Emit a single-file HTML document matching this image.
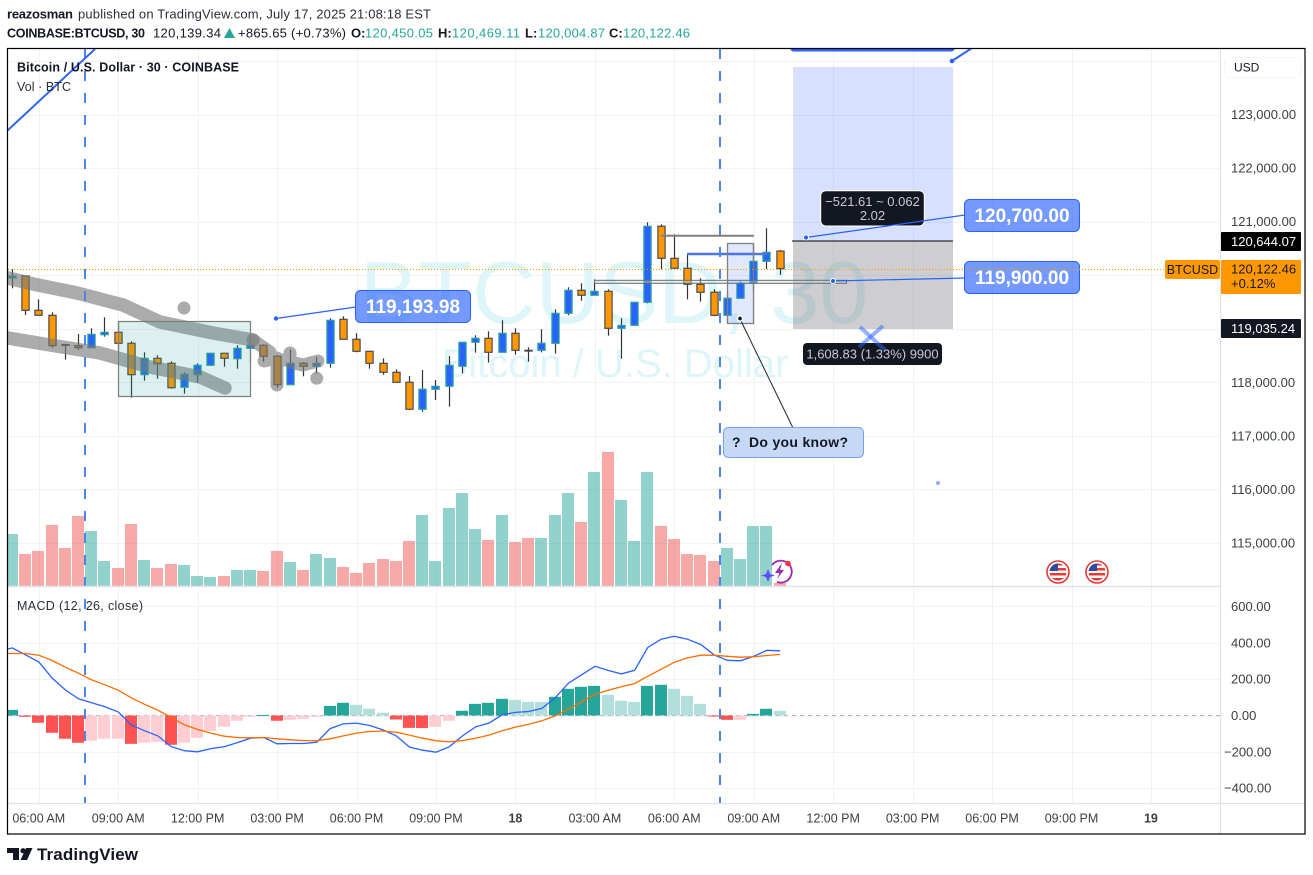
<!DOCTYPE html>
<html lang="en">
<head>
<meta charset="utf-8">
<title>BTCUSD 30 chart</title>
<style>
html,body{margin:0;padding:0;background:#fff;width:1313px;height:875px;overflow:hidden}
svg{display:block;font-family:"Liberation Sans",sans-serif}
</style>
</head>
<body>
<svg id="chart" xmlns="http://www.w3.org/2000/svg" width="1313" height="875" viewBox="0 0 1313 875">
<defs>
<clipPath id="clipMain"><rect x="8" y="49" width="1212" height="537"/></clipPath>
<clipPath id="clipMacd"><rect x="8" y="587" width="1212" height="216"/></clipPath>
<clipPath id="clipAll"><rect x="8" y="49" width="1212" height="754"/></clipPath>
<clipPath id="flagA"><circle cx="1058" cy="572" r="8.5"/></clipPath>
<clipPath id="flagB"><circle cx="1097" cy="572" r="8.5"/></clipPath>
</defs>
<rect width="1313" height="875" fill="#fff"/>

<text x="7" y="18.500" font-size="13" font-weight="700" fill="#131722" textLength="66">reazosman</text>
<text x="78" y="18.500" font-size="13" fill="#2a2e39" textLength="353">published on TradingView.com, July 17, 2025 21:08:18 EST</text>
<g font-size="13">
<text x="7" y="37.500" font-size="12.500" font-weight="700" fill="#131722" textLength="138">COINBASE:BTCUSD, 30</text>
<text x="153" y="37.500" fill="#131722" textLength="68">120,139.34</text>
<polygon points="224,38 235,38 229.500,28" fill="#26a69a"/>
<text x="238" y="37.500" fill="#131722" textLength="108">+865.65 (+0.73%)</text>
<text x="351" y="37.500" font-weight="700" fill="#131722">O:</text>
<text x="365" y="37.500" fill="#26a69a" textLength="68">120,450.05</text>
<text x="438" y="37.500" font-weight="700" fill="#131722">H:</text>
<text x="452" y="37.500" fill="#26a69a" textLength="68">120,469.11</text>
<text x="525" y="37.500" font-weight="700" fill="#131722">L:</text>
<text x="538" y="37.500" fill="#26a69a" textLength="67">120,004.87</text>
<text x="609" y="37.500" font-weight="700" fill="#131722">C:</text>
<text x="623" y="37.500" fill="#26a69a" textLength="67">120,122.46</text>
</g>

<g id="grid"></g>

<g clip-path="url(#clipMain)">
<text x="614" y="323" font-size="88" fill="#def5f9" text-anchor="middle">BTCUSD, 30</text>
<text x="615" y="377" font-size="40" fill="#def5f9" text-anchor="middle">Bitcoin / U.S. Dollar</text>
</g>

<g id="volumes" clip-path="url(#clipMain)"></g>
<g id="macdZero" clip-path="url(#clipMacd)"></g>
<g id="hist" clip-path="url(#clipMacd)"></g>
<g id="macdLines" clip-path="url(#clipMacd)"></g>

<g id="candles" clip-path="url(#clipMain)"></g>

<g clip-path="url(#clipMain)">
<rect x="793" y="67" width="160" height="174" fill="#2962ff" fill-opacity="0.19"/>
<rect x="793" y="241" width="160" height="88" fill="#6e7074" fill-opacity="0.34"/>
<line x1="792" y1="241" x2="953" y2="241" stroke="#000" stroke-width="1"/>
<rect x="790" y="36" width="165" height="15.500" rx="4" fill="#2962ff"/>
<line x1="952" y1="61" x2="975" y2="46" stroke="#2962ff" stroke-width="2"/>
<circle cx="952" cy="61" r="2.300" fill="#2962ff"/>

<polyline points="8,278 33,284 77,293 123,305 160,322 213,333 253,340" fill="none" stroke="#787878" stroke-opacity="0.62" stroke-width="13.500" stroke-linecap="round" stroke-linejoin="round"/>
<polyline points="8,338 50,345 100,353 150,367 200,377 225,388" fill="none" stroke="#787878" stroke-opacity="0.62" stroke-width="13.500" stroke-linecap="round" stroke-linejoin="round"/>
<polyline points="253,340 270,352 264,361 277,358 277,385 277,360 290,360 290,353 290,362 303,365 318,361" fill="none" stroke="#787878" stroke-opacity="0.62" stroke-width="13" stroke-linecap="round" stroke-linejoin="round"/>
<circle cx="184" cy="308" r="6.500" fill="#787878" fill-opacity="0.62"/>
<circle cx="316.700" cy="378.300" r="6.500" fill="#787878" fill-opacity="0.62"/>

<rect x="118.500" y="321.500" width="132" height="75" fill="#26a69a" fill-opacity="0.16" stroke="#7d7d7d" stroke-width="1.200"/>

<line x1="85" y1="49" x2="85" y2="803" stroke="#4a85e8" stroke-width="2" stroke-dasharray="10 12"/>

<line x1="7" y1="131" x2="95" y2="49" stroke="#2f67ee" stroke-width="2"/>

<line x1="661" y1="235.700" x2="754" y2="235.700" stroke="#808080" stroke-width="2"/>
<line x1="687" y1="254" x2="767" y2="254" stroke="#4f77dd" stroke-width="2.400"/>
<rect x="594.500" y="280.300" width="252" height="3" fill="#cfd6d6" fill-opacity="0.4" stroke="#5f7070" stroke-width="1"/>
<rect x="727.500" y="243.500" width="26" height="80" fill="#2962ff" fill-opacity="0.15" stroke="#808080" stroke-width="1.300"/>

<line x1="276" y1="318.500" x2="356" y2="307" stroke="#2962ff" stroke-width="1.200"/>
<circle cx="276" cy="318.500" r="2.200" fill="#2962ff"/>
<rect x="355.500" y="290.500" width="115" height="32" rx="5" fill="#2962ff" fill-opacity="0.65" stroke="#2962ff" stroke-width="1"/>
<text x="413" y="313" font-size="19" font-weight="700" fill="#fff" text-anchor="middle">119,193.98</text>

<rect x="820.700" y="190.700" width="103.600" height="35.300" rx="5" fill="#131722" stroke="#fff" stroke-width="1"/>
<text x="872.500" y="206" font-size="13" fill="#c8cad0" text-anchor="middle">−521.61 ~ 0.062</text>
<text x="872.500" y="220" font-size="13" fill="#c8cad0" text-anchor="middle">2.02</text>

<line x1="806" y1="237.500" x2="965" y2="215" stroke="#2962ff" stroke-width="1.200"/>
<circle cx="806" cy="237.500" r="2.600" fill="#2962ff" stroke="#fff" stroke-width="1"/>
<rect x="964.500" y="199.500" width="115" height="32" rx="5" fill="#2962ff" fill-opacity="0.65" stroke="#2962ff" stroke-width="1"/>
<text x="1022" y="222" font-size="19" font-weight="700" fill="#fff" text-anchor="middle">120,700.00</text>

<line x1="833" y1="281" x2="965" y2="278" stroke="#2962ff" stroke-width="1.200"/>
<circle cx="833" cy="281" r="2.600" fill="#2962ff" stroke="#fff" stroke-width="1"/>
<rect x="964.500" y="261.500" width="115" height="32" rx="5" fill="#2962ff" fill-opacity="0.65" stroke="#2962ff" stroke-width="1"/>
<text x="1022" y="284" font-size="19" font-weight="700" fill="#fff" text-anchor="middle">119,900.00</text>

<rect x="803" y="343" width="139" height="22" rx="4" fill="#131722"/>
<text x="872.500" y="358.500" font-size="13" fill="#c8cad0" text-anchor="middle">1,608.83 (1.33%) 9900</text>
<g stroke="#2962ff" stroke-opacity="0.5" stroke-width="4">
<line x1="859" y1="347" x2="883" y2="326"/>
<line x1="860" y1="327" x2="885" y2="350"/>
</g>

<line x1="741" y1="321" x2="793" y2="428" stroke="#2f333b" stroke-width="1.100"/>
<circle cx="740" cy="318.500" r="2.600" fill="#131722" stroke="#fff" stroke-width="1.500"/>
<rect x="723.500" y="427.500" width="140" height="30" rx="5" fill="#c5d8f5" stroke="#7aa0f0" stroke-width="1"/>
<text x="732" y="447" font-size="14" font-weight="700" fill="#131722" xml:space="preserve">?</text>
<text x="749" y="447" font-size="14" font-weight="700" fill="#131722" textLength="99">Do you know?</text>

<circle cx="938" cy="483" r="2" fill="#8fb0f5"/>

<g>
<path d="M772 565 A11 11 0 1 1 777 582" fill="none" stroke="#9c27b0" stroke-width="1.800"/>
<polygon points="782,563 775,573 779.500,573 777,579 784,570 780,570" fill="#9c27b0"/>
<polygon points="768,569 770,574 775,575.500 770,577 768,582 766,577 761,575.500 766,574" fill="#5a4df5"/>
<circle cx="788" cy="563.500" r="2.800" fill="#f23645"/>
</g>

<g>
<circle cx="1058" cy="572" r="11" fill="#fff" stroke="#e53935" stroke-width="1.600"/>
<g clip-path="url(#flagA)">
<rect x="1049" y="563" width="18" height="18" fill="#fff"/>
<rect x="1049" y="563" width="18" height="2.500" fill="#e53935"/><rect x="1049" y="568" width="18" height="2.500" fill="#e53935"/><rect x="1049" y="573" width="18" height="2.500" fill="#e53935"/><rect x="1049" y="578" width="18" height="2.500" fill="#e53935"/>
<rect x="1049" y="563" width="9" height="8" fill="#2b4da0"/>
</g>
</g>
<g>
<circle cx="1097" cy="572" r="11" fill="#fff" stroke="#e53935" stroke-width="1.600"/>
<g clip-path="url(#flagB)">
<rect x="1088" y="563" width="18" height="18" fill="#fff"/>
<rect x="1088" y="563" width="18" height="2.500" fill="#e53935"/><rect x="1088" y="568" width="18" height="2.500" fill="#e53935"/><rect x="1088" y="573" width="18" height="2.500" fill="#e53935"/><rect x="1088" y="578" width="18" height="2.500" fill="#e53935"/>
<rect x="1088" y="563" width="9" height="8" fill="#2b4da0"/>
</g>
</g>
</g>

<line x1="720" y1="49" x2="720" y2="803" stroke="#4a85e8" stroke-width="2" stroke-dasharray="10 12"/>
<line x1="85" y1="587" x2="85" y2="803" stroke="#4a85e8" stroke-width="2" stroke-dasharray="10 12" stroke-dashoffset="10"/>

<line x1="8" y1="269.500" x2="1165" y2="269.500" stroke="#ff9800" stroke-width="1" stroke-dasharray="1 2"/>

<line x1="8" y1="586.500" x2="1220" y2="586.500" stroke="#e0e3eb" stroke-width="1.500"/>
<line x1="1220.500" y1="49" x2="1220.500" y2="834" stroke="#e0e3eb" stroke-width="1.200"/>
<line x1="8" y1="803.500" x2="1305" y2="803.500" stroke="#e0e3eb" stroke-width="1.200"/>

<g font-size="12.500" fill="#131722">
<text x="17" y="71.500" font-weight="700" textLength="222">Bitcoin / U.S. Dollar · 30 · COINBASE</text>
<text x="17" y="91" fill="#2a2e39" textLength="54">Vol · BTC</text>
<text x="17" y="610" fill="#2a2e39" textLength="126">MACD (12, 26, close)</text>
</g>

<g id="priceAxis" font-size="13" fill="#3c4043"></g>
<g id="macdAxis" font-size="13" fill="#3c4043"></g>
<g id="timeAxis" font-size="12.500" fill="#3c4043" text-anchor="middle"></g>

<rect x="1224.500" y="57.500" width="76" height="20" rx="4" fill="#fff" stroke="#f5f6fa"/>
<text x="1234" y="71.500" font-size="12" fill="#131722">USD</text>

<rect x="1165" y="260" width="55" height="19" rx="2" fill="#ff9800"/>
<text x="1192.500" y="274" font-size="12.500" fill="#131722" text-anchor="middle">BTCUSD</text>
<rect x="1221" y="232" width="80" height="19" rx="1" fill="#000"/>
<text x="1231" y="246" font-size="13" fill="#fff">120,644.07</text>
<rect x="1221" y="260" width="80" height="34" rx="1" fill="#ff9800"/>
<text x="1231" y="273.500" font-size="13" fill="#131722">120,122.46</text>
<text x="1231" y="288" font-size="13" fill="#131722">+0.12%</text>
<rect x="1221" y="319" width="80" height="19" rx="1" fill="#131722"/>
<text x="1231" y="333" font-size="13" fill="#fff">119,035.24</text>

<rect x="7.500" y="48.500" width="1297.500" height="785.500" fill="none" stroke="#000" stroke-width="1.200"/>

<g>
<path d="M7 848h12v12h-6v-7H7z" fill="#131722"/>
<circle cx="23" cy="850.700" r="2.600" fill="#131722"/>
<polygon points="26,848 32.500,848 27,860 20.500,860" fill="#131722"/>
<text x="37" y="860" font-size="17" font-weight="700" fill="#131722" textLength="101">TradingView</text>
</g>
</svg>

<script>
// Time axis: label for every 6th bar, starting at bar 2
const timeLabels = ["06:00 AM","09:00 AM","12:00 PM","03:00 PM","06:00 PM","09:00 PM","18","03:00 AM","06:00 AM","09:00 AM","12:00 PM","03:00 PM","06:00 PM","09:00 PM","19"];
const priceTicks = [124000,123000,122000,121000,120000,119000,118000,117000,116000,115000];
const priceTickLabels = ["","123,000.00","122,000.00","121,000.00","","","118,000.00","117,000.00","116,000.00","115,000.00"];
const macdTicks = [600,400,200,0,-200,-400];
const macdTickLabels = ["600.00","400.00","200.00","0.00","−200.00","−400.00"];

const opens = [119947,119985,119344,119251,118704,118684,118646,118889,118934,118728,118142,118448,118355,117907,118142,118318,118542,118441,118635,118691,118486,117955,118355,118299,118355,119176,118803,118579,118355,118187,118000,117496,117870,117926,118299,118747,118822,118560,118915,118598,118598,118728,119288,119718,119625,119699,119008,119064,119494,120913,120315,120129,119830,119681,119251,119569,119849,120259,120450];
const highs = [120110,119990,119550,119307,118706,118902,119008,119214,119139,118766,118560,118504,118392,118187,118355,118548,118545,118691,118822,118710,118504,118609,118374,118467,119195,119232,118915,118585,118448,118243,118118,118230,118043,118491,118753,118878,118952,119158,119008,118654,118990,119363,119774,119849,119923,119737,119195,119499,120987,120950,120763,120409,119942,119737,119681,119886,120564,120875,120469];
const lows = [119755,119257,119245,118646,118422,118609,118640,118852,118609,117713,118030,118068,117881,117787,117993,118312,118291,118254,118385,118385,117899,117950,118112,118168,118273,118797,118560,118254,118142,117995,117490,117451,117670,117545,118168,118553,118366,118555,118516,118385,118560,118534,119251,119524,119620,118870,118441,119059,119475,120110,120124,119550,119505,119232,119102,119564,119737,120116,120005];
const closes = [119985,119344,119251,118684,118689,118646,118896,118934,118728,118142,118448,118348,117899,118150,118318,118542,118448,118635,118691,118486,117955,118355,118299,118355,119158,118803,118579,118355,118187,118000,117496,117870,117926,118318,118747,118822,118560,118915,118598,118588,118728,119288,119718,119625,119699,119008,119064,119494,120913,120315,120129,119830,119681,119251,119569,119849,120259,120427,120122];
const volumes = [520,320,350,610,380,700,550,250,180,620,260,180,220,210,100,90,100,160,160,150,350,240,160,320,280,190,130,230,270,250,450,710,250,780,930,570,460,710,440,480,480,710,930,640,1140,1340,860,450,1140,600,470,320,310,250,380,270,600,600,30];
const histogram = [31,-7,-40,-95,-128,-150,-139,-128,-128,-156,-150,-145,-161,-150,-123,-84,-62,-29,-7,3,-29,-24,-18,-7,53,70,59,37,15,-22,-68,-69,-62,-29,26,64,70,92,86,75,75,103,147,158,163,114,81,75,163,169,147,108,64,-2,-24,-24,9,37,26];
const macdValues = [372,334,295,207,141,92,70,48,20,-53,-84,-112,-171,-194,-200,-182,-172,-149,-125,-121,-156,-154,-154,-147,-72,-46,-42,-55,-79,-112,-174,-191,-202,-172,-112,-62,-42,4,17,22,39,97,178,224,271,248,229,249,374,420,436,420,391,334,304,301,326,359,356];
const signalValues = [341,341,332,303,266,233,196,169,139,97,61,29,-11,-51,-77,-97,-114,-121,-123,-121,-128,-134,-138,-138,-128,-112,-97,-88,-86,-92,-108,-125,-139,-145,-138,-125,-108,-84,-64,-48,-29,-2,35,75,116,139,158,176,216,255,293,317,332,332,326,321,323,330,336];
// Values of the bar just off the left edge, so the lines run in from the pane border
const macdBeforeFirst = 354;
const signalBeforeFirst = 341;

const NS = "http://www.w3.org/2000/svg";
function xAt(i){ return 12.3 + 13.24 * i; }
function priceY(p){ return 114.5 + (123000 - p) * 0.05356; }
function volY(v){ return 586 - v * 0.1; }
function macdY(m){ return 715.5 - m * 0.1817; }
function make(tag, parent){
  const el = document.createElementNS(NS, tag);
  parent.appendChild(el);
  return el;
}
const gridG = document.getElementById("grid");
const candlesG = document.getElementById("candles");
const volumesG = document.getElementById("volumes");
const histG = document.getElementById("hist");
const linesG = document.getElementById("macdLines");
const zeroG = document.getElementById("macdZero");
const priceAxisG = document.getElementById("priceAxis");
const macdAxisG = document.getElementById("macdAxis");
const timeAxisG = document.getElementById("timeAxis");

timeLabels.forEach(function(label, k){
  const x = Math.round(xAt(2 + k * 6)) + 0.5;
  const gl = make("line", gridG);
  
  
  gl.setAttribute("x1", x); gl.setAttribute("x2", x);
  gl.setAttribute("y1", 49); gl.setAttribute("y2", 803);
  gl.setAttribute("stroke", "#f0f2f6");
  const t = make("text", timeAxisG);
  
  
  t.setAttribute("x", xAt(2 + k * 6));
  t.setAttribute("y", 822.5);
  if (label.length < 3) t.setAttribute("font-weight", "700");
  t.textContent = label;
});

priceTicks.forEach(function(p, k){
  const y = Math.round(priceY(p)) + 0.5;
  const gl = make("line", gridG);
  
  
  gl.setAttribute("x1", 8); gl.setAttribute("x2", 1220);
  gl.setAttribute("y1", y); gl.setAttribute("y2", y);
  gl.setAttribute("stroke", "#f0f2f6");
  if (priceTickLabels[k]) {
    const t = make("text", priceAxisG);
    
    
    t.setAttribute("x", 1231);
    t.setAttribute("y", priceY(p) + 4.5);
    t.textContent = priceTickLabels[k];
  }
});

macdTicks.forEach(function(m, k){
  const y = Math.round(macdY(m)) + 0.5;
  const gl = make("line", gridG);
  
  
  gl.setAttribute("x1", 8); gl.setAttribute("x2", 1220);
  gl.setAttribute("y1", y); gl.setAttribute("y2", y);
  gl.setAttribute("stroke", "#f0f2f6");
  const t = make("text", macdAxisG);
  
  
  t.setAttribute("x", m < 0 ? 1224 : 1231);
  t.setAttribute("y", macdY(m) + 4.5);
  t.textContent = macdTickLabels[k];
});

const zeroLine = make("line", zeroG);


zeroLine.setAttribute("x1", 8); zeroLine.setAttribute("x2", 1220);
zeroLine.setAttribute("y1", macdY(0)); zeroLine.setAttribute("y2", macdY(0));
zeroLine.setAttribute("stroke", "#b2b5be");
zeroLine.setAttribute("stroke-dasharray", "4 4");

volumes.forEach(function(v, i){
  const up = closes[i] >= opens[i];
  const r = make("rect", volumesG);
  
  
  r.setAttribute("x", Math.floor(xAt(i)) - 6);
  r.setAttribute("y", volY(v));
  r.setAttribute("width", 12);
  r.setAttribute("height", 586 - volY(v));
  r.setAttribute("fill", up ? "#26a69a" : "#ef5350");
  r.setAttribute("fill-opacity", "0.5");
});

histogram.forEach(function(h, i){
  const prev = i > 0 ? histogram[i - 1] : h - 1;
  let color;
  if (h >= 0) { color = h > prev ? "#26a69a" : "#b2dfdb"; }
  else { color = h >= prev ? "#ffcdd2" : "#ff5252"; }
  const y0 = macdY(0), y1 = macdY(h);
  const r = make("rect", histG);
  
  
  r.setAttribute("x", Math.floor(xAt(i)) - 6);
  r.setAttribute("y", Math.min(y0, y1));
  r.setAttribute("width", 12);
  r.setAttribute("height", Math.max(1, Math.abs(y1 - y0)));
  r.setAttribute("fill", color);
});

function buildPath(firstValue, values, color, name){
  const head = xAt(-1).toFixed(1) + "," + macdY(firstValue).toFixed(1) + " ";
  const pts = head + values.map(function(v, i){ return xAt(i).toFixed(1) + "," + macdY(v).toFixed(1); }).join(" ");
  const pl = make("polyline", linesG);
  
  
  pl.setAttribute("points", pts);
  pl.setAttribute("fill", "none");
  pl.setAttribute("stroke", color);
  pl.setAttribute("stroke-width", "1.300");
}
buildPath(macdBeforeFirst, macdValues, "#2962ff", "macd-line");
buildPath(signalBeforeFirst, signalValues, "#ff6d00", "signal-line");

opens.forEach(function(o, i){
  const c = closes[i];
  const up = c >= o;
  const x = Math.floor(xAt(i)) + 0.5;
  const wick = make("line", candlesG);
  
  
  wick.setAttribute("x1", x); wick.setAttribute("x2", x);
  wick.setAttribute("y1", priceY(highs[i]));
  wick.setAttribute("y2", priceY(lows[i]));
  wick.setAttribute("stroke", "#30343c");
  wick.setAttribute("stroke-width", "1.200");
  const top = priceY(Math.max(o, c));
  const bot = priceY(Math.min(o, c));
  const body = make("rect", candlesG);
  
  
  body.setAttribute("x", x - 3.6);
  body.setAttribute("y", top);
  body.setAttribute("width", 7.2);
  body.setAttribute("height", Math.max(0.8, bot - top));
  body.setAttribute("fill", up ? "#2962ff" : "#ff9800");
  body.setAttribute("stroke", up ? "#26a69a" : "#4a4a4a");
  body.setAttribute("stroke-width", "1.200");
});
</script>
</body>
</html>
